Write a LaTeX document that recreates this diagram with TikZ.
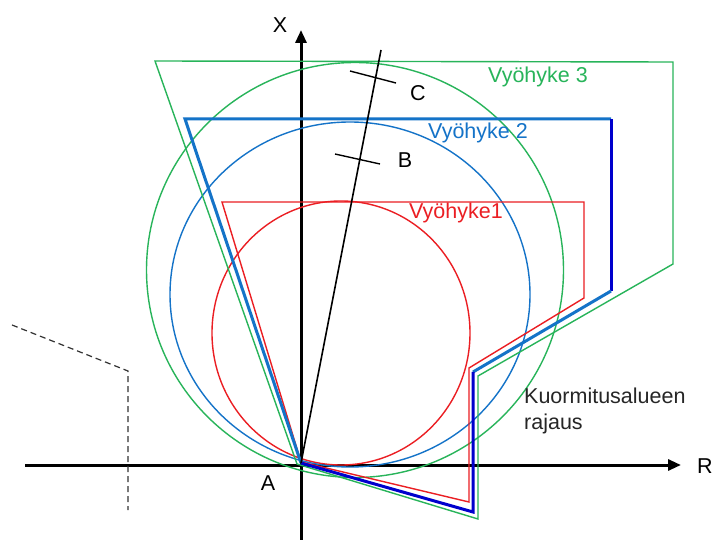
\documentclass[tikz,border=0pt]{standalone}
\usepackage{fontspec}
\setmainfont{Liberation Sans}
\usetikzlibrary{arrows.meta}
\definecolor{zgreen}{RGB}{40,180,90}
\definecolor{zred}{RGB}{235,30,35}
\definecolor{zblue}{RGB}{20,115,200}
\definecolor{zdark}{RGB}{0,0,205}
\definecolor{zgray}{RGB}{50,50,50}
\begin{document}
\begin{tikzpicture}[x=1pt,y=-1pt,
  axis/.style={line width=3pt,-{Triangle[length=13pt,width=11pt]}},
  zone/.style={line width=1.4pt,line join=miter},
  lbl/.style={font=\fontsize{21.5}{26}\selectfont,inner sep=0pt}]
\useasboundingbox (0,0) rectangle (713,540);
\fill[white] (0,0) rectangle (713,540);
% key points
\coordinate (A) at (301,463);
\coordinate (Ltop) at (381,50);
% axes
\draw[axis] (25,465) -- (681,465);
\draw[axis] (301,540) -- (301,30);
% dashed boundary
\draw[zgray,line width=1.2pt,dash pattern=on 6pt off 4pt] (12,325) -- (128,371) -- (128,510);
% circles
\draw[zred,line width=1.4pt] (341,333) ellipse [x radius=129,y radius=132];
\draw[zblue,line width=1.4pt] (350,294.5) ellipse [x radius=180,y radius=172.5];
\draw[zgreen,line width=1.4pt] (355,270) ellipse [x radius=208.5,y radius=207.5];
% zone polygons
\draw[zgreen,zone] (155,61) -- (673,62) -- (673,264) -- (478,376) -- (478,519) -- (297,464) -- cycle;
\draw[zred,zone] (222,202) -- (584,202) -- (584,298) -- (469,368) -- (469,502) -- (301,462) -- cycle;
% blue polygon with two shades
\draw[zblue,line width=3pt,line join=miter] (301,463) -- (185,119) -- (611,119);
\draw[zdark,line width=3pt] (611,119) -- (611,291);
\draw[zblue,line width=3pt] (611,291) -- (473,372);
\draw[zdark,line width=3pt,line join=miter] (473,372) -- (473,512) -- (301,463);
% radial line and ticks
\draw[black,line width=1.6pt] (A) -- (Ltop);
\draw[black,line width=1.4pt] (350,71) -- (396,83);
\draw[black,line width=1.4pt] (335,154) -- (380,164);
% labels
\node[lbl] (xl) at (280,25) {X};
\node[lbl,anchor=west] (rl) at (697,466) {R};
\node[lbl] (al) at (268,483) {A};
\node[lbl] (cl) at (418,93) {C};
\node[lbl] (bl) at (405,160) {B};
\node[lbl,text=zgreen] (z3) at (538,77) {Vyöhyke 3};
\node[lbl,text=zblue] (z2) at (478,133) {Vyöhyke 2};
\node[lbl,text=zred] (z1) at (456,213) {Vyöhyke1};
\node[lbl,anchor=north west,align=left,text=black!85] (kr) at (524,388) {Kuormitusalueen\\rajaus};
\end{tikzpicture}
\end{document}
